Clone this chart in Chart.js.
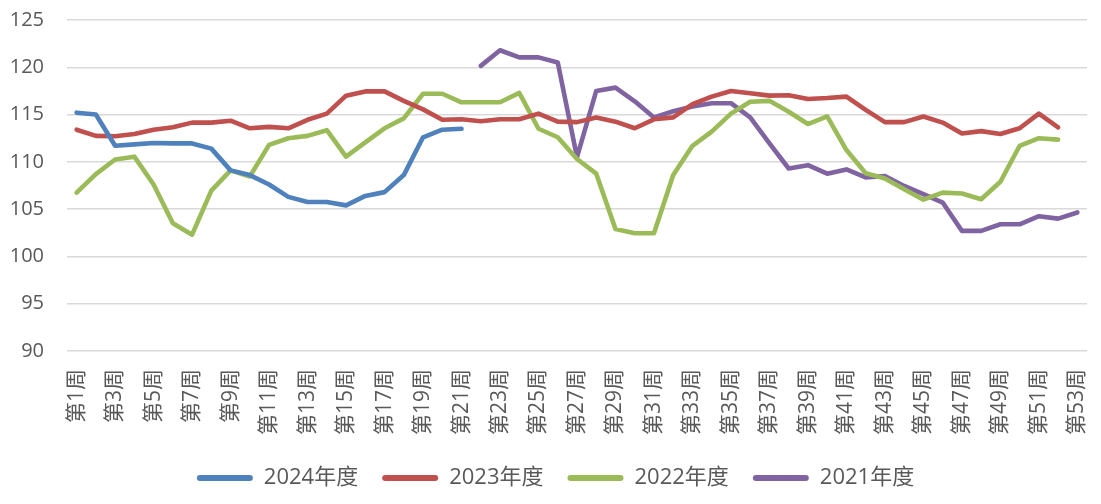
<!DOCTYPE html>
<html>
<head>
<meta charset="utf-8">
<script src="https://cdn.jsdelivr.net/npm/chart.js@4/dist/chart.umd.min.js"></script>
<style>
  html, body { margin: 0; padding: 0; background: #fff; }
  #wrap { width: 1101px; height: 504px; }
</style>
</head>
<body>
<div id="wrap"><canvas id="chart"></canvas></div>
<script>
const weeks = [];
for (let i = 1; i <= 53; i++) weeks.push(`第${i}周`);

const yearLabels = ['2024年度', '2023年度', '2022年度', '2021年度'];
const lineColors = ['#4f81bd', '#c0504d', '#9bbb59', '#8064a2'];

// weekly values, null where the year has no data
const y2024 = [115.2, 115.0, 111.7, 111.85, 112.0, 111.95, 111.95, 111.4, 109.1, 108.6,
  107.6, 106.3, 105.75, 105.75, 105.4, 106.4, 106.8, 108.6, 112.6, 113.4,
  113.5];
const y2023 = [113.4, 112.75, 112.7, 112.95, 113.4, 113.65, 114.15, 114.15, 114.35, 113.55,
  113.7, 113.55, 114.45, 115.1, 117.0, 117.45, 117.45, 116.45, 115.55, 114.45,
  114.5, 114.3, 114.5, 114.5, 115.1, 114.25, 114.2, 114.7, 114.25, 113.55,
  114.5, 114.7, 116.1, 116.9, 117.5, 117.25, 117.0, 117.05, 116.65, 116.75,
  116.9, 115.5, 114.2, 114.2, 114.8, 114.15, 113.0, 113.25, 112.95, 113.55,
  115.1, 113.65, null];
const y2022 = [106.75, 108.7, 110.25, 110.55, 107.6, 103.5, 102.3, 106.95, 109.1, 108.45,
  111.8, 112.5, 112.75, 113.35, 110.55, 112.05, 113.55, 114.6, 117.2, 117.2,
  116.3, 116.3, 116.3, 117.3, 113.5, 112.6, 110.3, 108.75, 102.9, 102.45,
  102.45, 108.6, 111.7, 113.2, 115.1, 116.35, 116.45, 115.3, 114.0, 114.8,
  111.25, 108.8, 108.25, 107.1, 106.0, 106.75, 106.65, 106.05, 107.9, 111.7,
  112.5, 112.35, null];
const y2021 = [null, null, null, null, null, null, null, null, null, null,
  null, null, null, null, null, null, null, null, null, null,
  null, 120.15, 121.8, 121.05, 121.05, 120.5, 110.5, 117.5, 117.85, 116.4,
  114.7, 115.35, 115.85, 116.2, 116.2, 114.7, 111.95, 109.3, 109.65, 108.75,
  109.2, 108.35, 108.5, 107.45, 106.6, 105.7, 102.7, 102.7, 103.4, 103.4,
  104.25, 104.0, 104.65];

const seriesValues = [y2024, y2023, y2022, y2021];
const yTicks = { min: 90, max: 125, step: 5 };

const textColor = '#595959';
const fontFamily = '"Open Sans", "Noto Sans CJK SC", sans-serif';

const datasets = seriesValues.map((vals, i) => ({
  label: yearLabels[i],
  data: vals,
  borderColor: lineColors[i],
  backgroundColor: lineColors[i],
  borderWidth: 4.6,
  borderCapStyle: 'round',
  borderJoinStyle: 'round',
  pointRadius: 0,
  pointHoverRadius: 0,
  tension: 0,
  spanGaps: false
}));

// nudge the legend a little right, like the original
const legendShift = {
  id: 'legendShift',
  afterLayout(chart) {
    if (!chart.legend) return;
    chart.legend.left += 12;
    chart.legend.right += 12;
  }
};

new Chart(document.getElementById('chart'), {
  type: 'line',
  data: { labels: weeks, datasets },
  plugins: [legendShift],
  options: {
    responsive: true,
    maintainAspectRatio: false,
    animation: false,
    layout: { padding: { top: 20, right: 14, bottom: 5, left: 0 } },
    plugins: {
      tooltip: { enabled: false },
      legend: {
        position: 'bottom',
        labels: {
          color: textColor,
          font: { family: fontFamily, size: 22 },
          boxWidth: 56,
          boxHeight: 6,
          useBorderRadius: true,
          borderRadius: 3,
          padding: 24,
          // plain filled bar, no outline
          generateLabels: (chart) => Chart.defaults.plugins.legend.labels
            .generateLabels(chart)
            .map((item) => ({ ...item, lineWidth: 0 }))
        }
      }
    },
    scales: {
      x: {
        offset: true,
        grid: { display: false, drawTicks: false },
        border: { display: false },
        ticks: {
          autoSkip: false,
          minRotation: 90,
          maxRotation: 90,
          padding: 18,
          color: textColor,
          font: { family: fontFamily, size: 21 },
          callback: (v, i) => (i % 2 === 0 ? weeks[i] : '')
        },
        afterFit: (scale) => {
          scale.height = 92;
          scale.paddingLeft = 0;
          scale.paddingRight = 0;
        }
      },
      y: {
        min: yTicks.min,
        max: yTicks.max,
        grid: { color: '#d9d9d9', lineWidth: 1.5, drawTicks: false },
        border: { display: false },
        ticks: {
          stepSize: yTicks.step,
          padding: 23,
          color: textColor,
          font: { family: fontFamily, size: 20 }
        },
        afterFit: (scale) => {
          scale.width = 67;
          scale.paddingTop = 0;
          scale.paddingBottom = 0;
        }
      }
    }
  }
});
</script>
</body>
</html>
